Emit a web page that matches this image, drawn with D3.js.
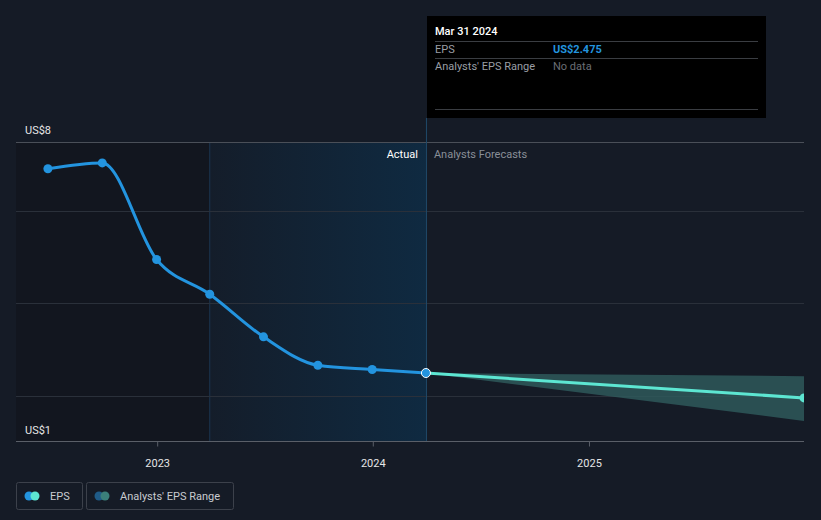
<!DOCTYPE html>
<html lang="en">
<head>
<meta charset="utf-8">
<title>EPS history and analysts' forecasts</title>
<script src="https://cdn.jsdelivr.net/npm/d3@7/dist/d3.min.js"></script>
<style>
  body { margin: 0; background: #151b26; }
  svg { display: block; }
  text { font-family: Roboto, "Noto Sans", sans-serif; }
  .axis text { fill: #e6e6e6; font-size: 11px; }
  .axis path, .axis line { stroke: #5a5f68; }
</style>
</head>
<body>
<div id="chart"></div>
<script>
// ---- data ----
var epsDates  = ["2022-06-30","2022-09-30","2022-12-31","2023-03-31","2023-06-30","2023-09-30","2023-12-31","2024-03-31"];
var epsValues = [7.36, 7.50, 5.19, 4.36, 3.34, 2.66, 2.56, 2.475];

var fcDates  = ["2024-03-31","2025-12-31"];
var fcValues = [2.475, 1.88];
var fcLow    = [2.475, 1.33];
var fcHigh   = [2.475, 2.40];

var gridValues = [8, 6.35, 4.15, 1.93];
var yLabels = ["US$8", "US$1"];
var xTicks = ["2023-01-01","2024-01-01","2025-01-01"];

var parse = d3.timeParse("%Y-%m-%d");

// ---- layout ----
var W = 821, H = 520;
var pL = 16, pR = 804, pT = 142, pB = 441;

var svg = d3.select("#chart").append("svg")
  .attr("width", W).attr("height", H);

var x = d3.scaleTime()
  .domain([parse("2022-05-07"), parse("2025-12-31")])
  .range([pL, pR]);
var y = d3.scaleLinear()
  .domain([0.849, 8])
  .range([pB, pT]);

var pastStart = parse("2023-03-31"), today = parse("2024-03-31");

// background areas
svg.append("rect").attr("x", pL).attr("y", pT)
  .attr("width", x(pastStart) - pL).attr("height", pB - pT)
  .attr("fill", "#12161f");

var defs = svg.append("defs");
var grad = defs.append("linearGradient").attr("id", "pastGrad");
grad.append("stop").attr("offset", "0%").attr("stop-color", "#141d2a");
grad.append("stop").attr("offset", "100%").attr("stop-color", "#0f2a41");
svg.append("rect").attr("x", x(pastStart)).attr("y", pT)
  .attr("width", x(today) - x(pastStart)).attr("height", pB - pT)
  .attr("fill", "url(#pastGrad)");
svg.append("line")
  .attr("x1", x(pastStart)).attr("x2", x(pastStart))
  .attr("y1", pT).attr("y2", pB)
  .attr("stroke", "#1b3550").attr("stroke-width", 1);

// gridlines
svg.append("g").selectAll("line").data(gridValues).enter().append("line")
  .attr("x1", pL).attr("x2", pR)
  .attr("y1", function(d){ return Math.round(y(d)) + 0.5; })
  .attr("y2", function(d){ return Math.round(y(d)) + 0.5; })
  .attr("stroke", function(d, i){ return i == 0 ? "#4a4f58" : "#2a303a"; })
  .attr("stroke-width", 1);

// y labels
svg.append("text").attr("x", 25).attr("y", y(8) - 8)
  .attr("fill", "#e6e6e6").style("font-size", "11px").text(yLabels[0]);
svg.append("text").attr("x", 25).attr("y", pB - 7)
  .attr("fill", "#e6e6e6").style("font-size", "11px").text(yLabels[1]);

// hover line
svg.append("line")
  .attr("x1", x(today) + 0.5).attr("x2", x(today) + 0.5)
  .attr("y1", 118).attr("y2", pB)
  .attr("stroke", "#1f4a6a").attr("stroke-width", 1);

// "Actual" / "Analysts Forecasts"
svg.append("text").attr("x", x(today) - 8).attr("y", 158)
  .attr("text-anchor", "end").attr("fill", "#ffffff")
  .style("font-size", "11px").text("Actual");
svg.append("text").attr("x", x(today) + 8).attr("y", 158)
  .attr("fill", "#8a8f98").style("font-size", "11px").text("Analysts Forecasts");

// forecast range
var rangeData = fcDates.map(function(d, i){ return {date: parse(d), lo: fcLow[i], hi: fcHigh[i]}; });
svg.append("path").datum(rangeData)
  .attr("fill", "#2f5c5e").attr("opacity", 0.8)
  .attr("d", d3.area()
    .x(function(d){ return x(d.date); })
    .y0(function(d){ return y(d.lo); })
    .y1(function(d){ return y(d.hi); }));

// forecast line
var fcData = fcDates.map(function(d, i){ return {date: parse(d), v: fcValues[i]}; });
svg.append("path").datum(fcData)
  .attr("fill", "none").attr("stroke", "#5de6d2").attr("stroke-width", 3)
  .attr("d", d3.line().x(function(d){ return x(d.date); }).y(function(d){ return y(d.v); }));

// x axis
var xAxis = svg.append("g").attr("class", "axis")
  .attr("transform", "translate(0," + (pB + 0.5) + ")")
  .call(d3.axisBottom(x)
    .tickValues(xTicks.map(parse))
    .tickSize(5)
    .tickFormat(d3.timeFormat("%Y")));
xAxis.select(".domain").attr("d", "M" + pL + ",0H" + pR);
xAxis.selectAll("text").attr("dy", "1.6em").style("font-size", "11px");

// EPS line
var epsData = epsDates.map(function(d, i){ return {date: parse(d), v: epsValues[i]}; });
svg.append("path").datum(epsData)
  .attr("fill", "none").attr("stroke", "#2394df").attr("stroke-width", 3)
  .attr("d", d3.line().curve(d3.curveMonotoneX)
    .x(function(d){ return x(d.date); }).y(function(d){ return y(d.v); }));

svg.append("g").selectAll("circle").data(epsData.slice(0, -1)).enter().append("circle")
  .attr("cx", function(d){ return x(d.date); })
  .attr("cy", function(d){ return y(d.v); })
  .attr("r", 4.5).attr("fill", "#2394df");

// end forecast point (clipped at right edge)
svg.append("clipPath").attr("id", "plotClip").append("rect")
  .attr("x", pL).attr("y", 0).attr("width", pR - pL).attr("height", H);
svg.append("circle")
  .attr("clip-path", "url(#plotClip)")
  .attr("cx", x(fcData[1].date)).attr("cy", y(fcData[1].v))
  .attr("r", 4.5).attr("fill", "#5de6d2");

// highlighted point
var last = epsData[epsData.length - 1];
svg.append("circle")
  .attr("cx", x(last.date)).attr("cy", y(last.v))
  .attr("r", 4.5).attr("fill", "#2394df")
  .attr("stroke", "#ffffff").attr("stroke-width", 1);

// tooltip
var tip = svg.append("g").attr("transform", "translate(427,16)");
tip.append("rect").attr("width", 339).attr("height", 102).attr("fill", "#000000");
[25, 42, 93].forEach(function(yy){
  tip.append("line").attr("x1", 8).attr("x2", 331)
    .attr("y1", yy + 0.5).attr("y2", yy + 0.5)
    .attr("stroke", "#3a3d42").attr("stroke-width", 1);
});
tip.append("text").attr("x", 8).attr("y", 19).attr("fill", "#ffffff")
  .style("font-size", "11px").style("font-weight", "500").text("Mar 31 2024");
tip.append("text").attr("x", 8).attr("y", 37).attr("fill", "#9a9ea5")
  .style("font-size", "11px").text("EPS");
tip.append("text").attr("x", 126).attr("y", 37).attr("fill", "#2394df")
  .style("font-size", "11px").style("font-weight", "bold").text("US$" + last.v);
tip.append("text").attr("x", 8).attr("y", 54).attr("fill", "#9a9ea5")
  .style("font-size", "11px").text("Analysts' EPS Range");
tip.append("text").attr("x", 126).attr("y", 54).attr("fill", "#6a6e75")
  .style("font-size", "11px").text("No data");

// legend
var legendItems = [
  {label: "EPS", c1: "#2394df", c2: "#5de6d2", x: 16, w: 66},
  {label: "Analysts' EPS Range", c1: "#1f5b87", c2: "#3b7f7a", x: 86, w: 147}
];
var lg = svg.append("g").selectAll("g").data(legendItems).enter().append("g")
  .attr("transform", function(d){ return "translate(" + d.x + ",482)"; });
lg.append("rect").attr("x", 0.5).attr("y", 0.5)
  .attr("width", function(d){ return d.w; }).attr("height", 27)
  .attr("rx", 2).attr("fill", "none").attr("stroke", "#3c414b");
lg.append("circle").attr("cx", 13).attr("cy", 14).attr("r", 4.5)
  .attr("fill", function(d){ return d.c1; });
lg.append("circle").attr("cx", 19).attr("cy", 14).attr("r", 4.5)
  .attr("fill", function(d){ return d.c2; });
lg.append("text").attr("x", 34).attr("y", 18)
  .attr("fill", "#c8cbd0").style("font-size", "11px")
  .text(function(d){ return d.label; });
</script>
</body>
</html>
